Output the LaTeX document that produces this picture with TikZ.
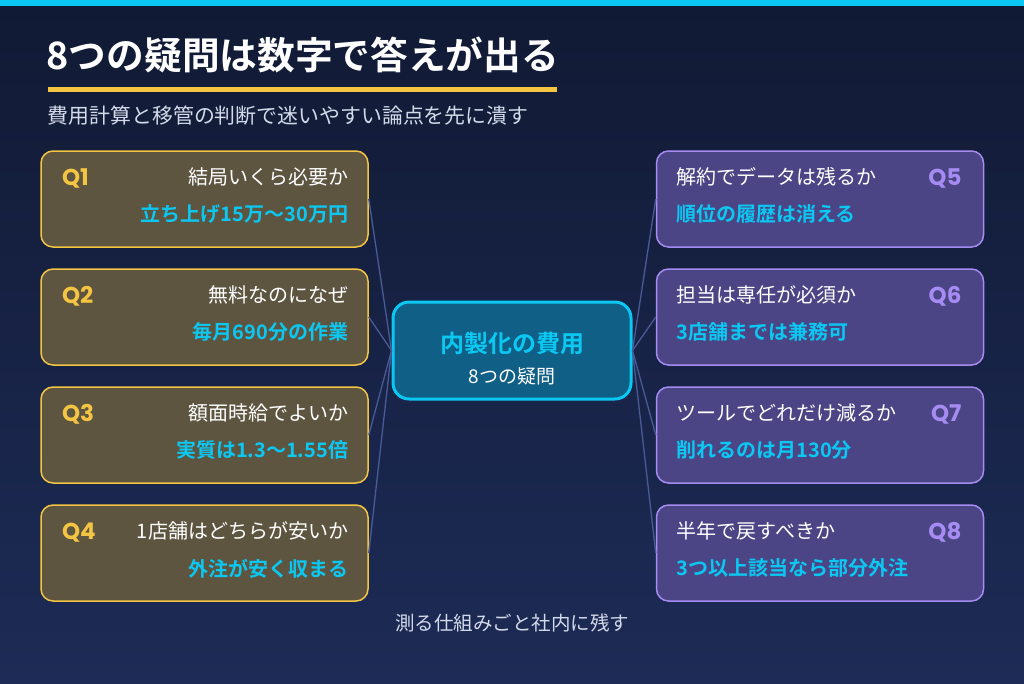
\documentclass[tikz,border=0pt]{standalone}
\usepackage{fontspec}
\setmainfont{Noto Sans CJK JP}[BoldFont={Noto Sans CJK JP Bold}]
\newfontfamily\qfont{Poppins}
\usetikzlibrary{positioning, calc}
\definecolor{cbgtop}{HTML}{111A34}
\definecolor{cbgbot}{HTML}{1D2B56}
\definecolor{ccyan}{HTML}{0BC8F2}
\definecolor{cgold}{HTML}{F4C542}
\definecolor{cgoldbg}{HTML}{5E5541}
\definecolor{cviolet}{HTML}{A68CF2}
\definecolor{cvioletbg}{HTML}{4B4585}
\definecolor{chub}{HTML}{0F5F86}
\definecolor{clink}{HTML}{4A5A96}
\definecolor{csub}{HTML}{D3DAEA}
\tikzset{
  every picture/.style={line width=1.5pt},
  qbox/.style={draw=#1, fill=#1bg, rounded corners=12pt, minimum width=327pt, minimum height=96pt},
  qbox/.default=cgold,
  qnum/.style={font=\qfont\fontsize{23}{25}\selectfont\bfseries, text=#1, inner sep=0pt},
  ask/.style={font=\fontsize{20}{22}\selectfont, text=white, inner sep=0pt},
  answer/.style={font=\fontsize{20}{22}\selectfont\bfseries, text=ccyan, inner sep=0pt},
  link/.style={draw=clink, line width=1.3pt},
}

\begin{document}
\begin{tikzpicture}[x=1pt, y=-1pt,
    hub/.style={draw=ccyan, fill=chub, line width=3pt, rounded corners=16pt, minimum width=238pt, minimum height=97pt},
  ]
  \useasboundingbox (0,0) rectangle (1024,683);
  \fill[top color=cbgtop, bottom color=cbgbot] (0,0) rectangle (1024,683);
  \fill[ccyan] (0,0) rectangle (1024,6);

  % heading
  \node[anchor=west, inner sep=0pt, text=white, font=\fontsize{37.7}{40}\selectfont\bfseries] (title) at (46,55) {8つの疑問は数字で答えが出る};
  \fill[cgold] (48,86.5) rectangle (557,91.5);
  \node[anchor=west, inner sep=0pt, text=csub, font=\fontsize{20.9}{23}\selectfont] (subtitle) at (47,116) {費用計算と移管の判断で迷いやすい論点を先に潰す};

  % the hub
  \node[hub] (cost) at (512,350.5) {};
  \node[font=\fontsize{24}{26}\selectfont\bfseries, text=ccyan, inner sep=0pt] (costt) at (512,343) {内製化の費用};
  \node[font=\fontsize{19}{21}\selectfont, text=white, inner sep=0pt] (costs) at (512,376) {8つの疑問};

  % left: money
  \node[qbox] (q1) at (204.5,199) {};
  \node[qbox] (q2) at (204.5,317) {};
  \node[qbox] (q3) at (204.5,435) {};
  \node[qbox] (q4) at (204.5,553) {};
  \node[qnum=cgold, anchor=west] at ([xshift=21pt, yshift=-28pt]q1.north west) {Q1};
  \node[qnum=cgold, anchor=west] at ([xshift=21pt, yshift=-28pt]q2.north west) {Q2};
  \node[qnum=cgold, anchor=west] at ([xshift=21pt, yshift=-28pt]q3.north west) {Q3};
  \node[qnum=cgold, anchor=west] at ([xshift=21pt, yshift=-28pt]q4.north west) {Q4};
  \node[ask, anchor=east] at ([xshift=-20pt, yshift=-27pt]q1.north east) {結局いくら必要か};
  \node[ask, anchor=east] at ([xshift=-20pt, yshift=-27pt]q2.north east) {無料なのになぜ};
  \node[ask, anchor=east] at ([xshift=-20pt, yshift=-27pt]q3.north east) {額面時給でよいか};
  \node[ask, anchor=east] at ([xshift=-20pt, yshift=-27pt]q4.north east) {1店舗はどちらが安いか};
  \node[answer, anchor=east] at ([xshift=-20pt, yshift=-64pt]q1.north east) {立ち上げ15万〜30万円};
  \node[answer, anchor=east] at ([xshift=-20pt, yshift=-64pt]q2.north east) {毎月690分の作業};
  \node[answer, anchor=east] at ([xshift=-20pt, yshift=-64pt]q3.north east) {実質は1.3〜1.55倍};
  \node[answer, anchor=east] at ([xshift=-20pt, yshift=-64pt]q4.north east) {外注が安く収まる};

  % right: people and tools
  \node[qbox=cviolet] (q5) at (820,199) {};
  \node[qbox=cviolet] (q6) at (820,317) {};
  \node[qbox=cviolet] (q7) at (820,435) {};
  \node[qbox=cviolet] (q8) at (820,553) {};
  \node[qnum=cviolet, anchor=east] at ([xshift=-22pt, yshift=-28pt]q5.north east) {Q5};
  \node[qnum=cviolet, anchor=east] at ([xshift=-22pt, yshift=-28pt]q6.north east) {Q6};
  \node[qnum=cviolet, anchor=east] at ([xshift=-22pt, yshift=-28pt]q7.north east) {Q7};
  \node[qnum=cviolet, anchor=east] at ([xshift=-22pt, yshift=-28pt]q8.north east) {Q8};
  \node[ask, anchor=west] at ([xshift=20pt, yshift=-27pt]q5.north west) {解約でデータは残るか};
  \node[ask, anchor=west] at ([xshift=20pt, yshift=-27pt]q6.north west) {担当は専任が必須か};
  \node[ask, anchor=west] at ([xshift=20pt, yshift=-27pt]q7.north west) {ツールでどれだけ減るか};
  \node[ask, anchor=west] at ([xshift=20pt, yshift=-27pt]q8.north west) {半年で戻すべきか};
  \node[answer, anchor=west] at ([xshift=20pt, yshift=-64pt]q5.north west) {順位の履歴は消える};
  \node[answer, anchor=west] at ([xshift=20pt, yshift=-64pt]q6.north west) {3店舗までは兼務可};
  \node[answer, anchor=west] at ([xshift=20pt, yshift=-64pt]q7.north west) {削れるのは月130分};
  \node[answer, anchor=west] at ([xshift=20pt, yshift=-64pt]q8.north west) {3つ以上該当なら部分外注};

  \foreach \k in {q1, q2, q3, q4} \draw[link] (\k.east) -- (cost.west);
  \foreach \k in {q5, q6, q7, q8} \draw[link] (\k.west) -- (cost.east);

  \node[text=csub, inner sep=0pt, font=\fontsize{19.5}{22}\selectfont] (footer) at (512,623) {測る仕組みごと社内に残す};
\end{tikzpicture}
\end{document}
